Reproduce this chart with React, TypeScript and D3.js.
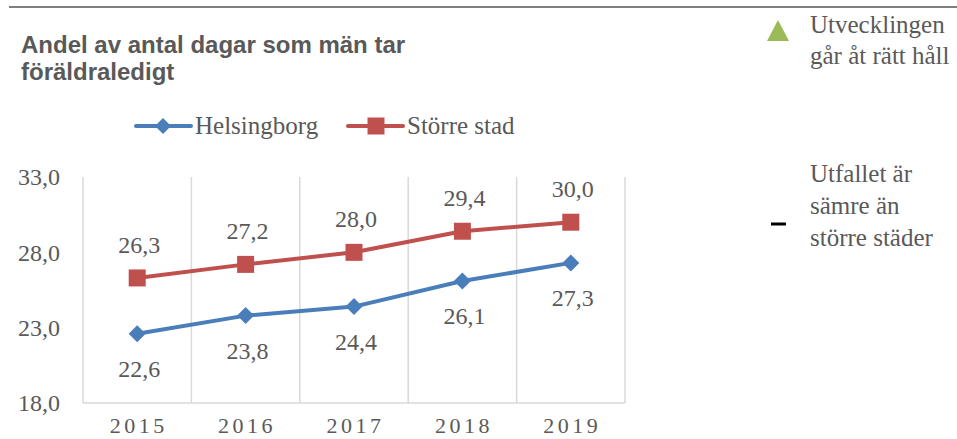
import React from "react";
import * as d3 from "d3";

const years = ["2015", "2016", "2017", "2018", "2019"];
const helsingborg = [22.6, 23.8, 24.4, 26.1, 27.3];
const storreStad = [26.3, 27.2, 28.0, 29.4, 30.0];
const yTicks = [18, 23, 28, 33];
const titleLines = ["Andel av antal dagar som män tar", "föräldraledigt"];
const legendNames = ["Helsingborg", "Större stad"];
const noteUp = ["Utvecklingen", "går åt rätt håll"];
const noteDown = ["Utfallet är", "sämre än", "större städer"];

const W = 957, H = 439;
const plot = { left: 83, right: 625, top: 177, bottom: 403 };
const BLUE = "#4a7ebb";
const RED = "#c0504d";
const GREEN = "#9bbb59";
const TEXT = "#595959";
const GRID = "#d9d9d9";
const SERIF = "'Liberation Serif', 'Times New Roman', serif";
const SANS = "'Liberation Sans', Arial, sans-serif";

const fmt = (v: number) => v.toFixed(1).replace(".", ",");

export default function App() {
  const x = d3.scaleBand<string>().domain(years).range([plot.left, plot.right]).padding(0);
  const y = d3.scaleLinear().domain([18, 33]).range([plot.bottom, plot.top]);
  const cx = (yr: string) => (x(yr) as number) + x.bandwidth() / 2;
  const line = d3
    .line<number>()
    .x((_, i) => cx(years[i]))
    .y((d) => y(d));

  const bounds = [...years.map((yr) => x(yr) as number), plot.right];
  const diamond = (px: number, py: number, r: number) =>
    `M${px},${py - r}L${px + r},${py}L${px},${py + r}L${px - r},${py}Z`;

  return (
    <svg
      width={W}
      height={H}
      style={{ position: "absolute", left: 0, top: 0, background: "#fff" }}
    >
      <line x1={9} x2={957} y1={7} y2={7} stroke="#7f7f7f" strokeWidth={2} />

      {titleLines.map((t, i) => (
        <text
          key={t}
          x={21}
          y={53 + i * 27}
          fontFamily={SANS}
          fontWeight="bold"
          fontSize={24}
          fill={TEXT}
        >
          {t}
        </text>
      ))}

      {/* legend */}
      <g>
        <line x1={136} x2={191} y1={126} y2={126} stroke={BLUE} strokeWidth={4} strokeLinecap="round" />
        <path d={diamond(163, 126, 8)} fill={BLUE} />
        <text x={195} y={134} fontFamily={SERIF} fontSize={25} fill={TEXT}>
          {legendNames[0]}
        </text>
        <line x1={348} x2={403} y1={126} y2={126} stroke={RED} strokeWidth={4} strokeLinecap="round" />
        <rect x={376 - 8.5} y={126 - 8.5} width={17} height={17} fill={RED} />
        <text x={407} y={134} fontFamily={SERIF} fontSize={25} fill={TEXT}>
          {legendNames[1]}
        </text>
      </g>

      {/* grid */}
      {bounds.map((bx, i) => (
        <line key={i} x1={bx} x2={bx} y1={plot.top} y2={plot.bottom} stroke={GRID} strokeWidth={1.5} />
      ))}
      <line x1={plot.left} x2={plot.right} y1={plot.bottom} y2={plot.bottom} stroke={GRID} strokeWidth={1.5} />

      {yTicks.map((t) => (
        <text
          key={t}
          x={60}
          y={y(t)}
          dy="0.35em"
          textAnchor="end"
          fontFamily={SERIF}
          fontSize={24}
          fill={TEXT}
        >
          {fmt(t)}
        </text>
      ))}

      {years.map((yr) => (
        <text
          key={yr}
          x={cx(yr) + 1.5}
          y={433}
          textAnchor="middle"
          fontFamily={SERIF}
          fontSize={22}
          letterSpacing={3.5}
          fill={TEXT}
        >
          {yr}
        </text>
      ))}

      {/* series */}
      <path d={line(storreStad) || ""} fill="none" stroke={RED} strokeWidth={4} strokeLinejoin="round" />
      <path d={line(helsingborg) || ""} fill="none" stroke={BLUE} strokeWidth={4} strokeLinejoin="round" />
      {storreStad.map((v, i) => (
        <rect key={"r" + i} x={cx(years[i]) - 8.5} y={y(v) - 8.5} width={17} height={17} fill={RED} />
      ))}
      {helsingborg.map((v, i) => (
        <path key={"b" + i} d={diamond(cx(years[i]), y(v), 8.5)} fill={BLUE} />
      ))}
      {storreStad.map((v, i) => (
        <text
          key={"rl" + i}
          x={cx(years[i]) + 2}
          y={y(v) - 25}
          textAnchor="middle"
          fontFamily={SERIF}
          fontSize={24}
          fill={TEXT}
        >
          {fmt(v)}
        </text>
      ))}
      {helsingborg.map((v, i) => (
        <text
          key={"bl" + i}
          x={cx(years[i]) + 2}
          y={y(v) + 43}
          textAnchor="middle"
          fontFamily={SERIF}
          fontSize={24}
          fill={TEXT}
        >
          {fmt(v)}
        </text>
      ))}

      {/* right notes */}
      <path d="M767,41L778,20L789,41Z" fill={GREEN} />
      {noteUp.map((t, i) => (
        <text key={t} x={810} y={33 + i * 31} fontFamily={SERIF} fontSize={25} fill={TEXT}>
          {t}
        </text>
      ))}
      <rect x={771} y={222.5} width={15} height={3} fill="#000" />
      {noteDown.map((t, i) => (
        <text key={t} x={810} y={182 + i * 32} fontFamily={SERIF} fontSize={25} fill={TEXT}>
          {t}
        </text>
      ))}
    </svg>
  );
}
